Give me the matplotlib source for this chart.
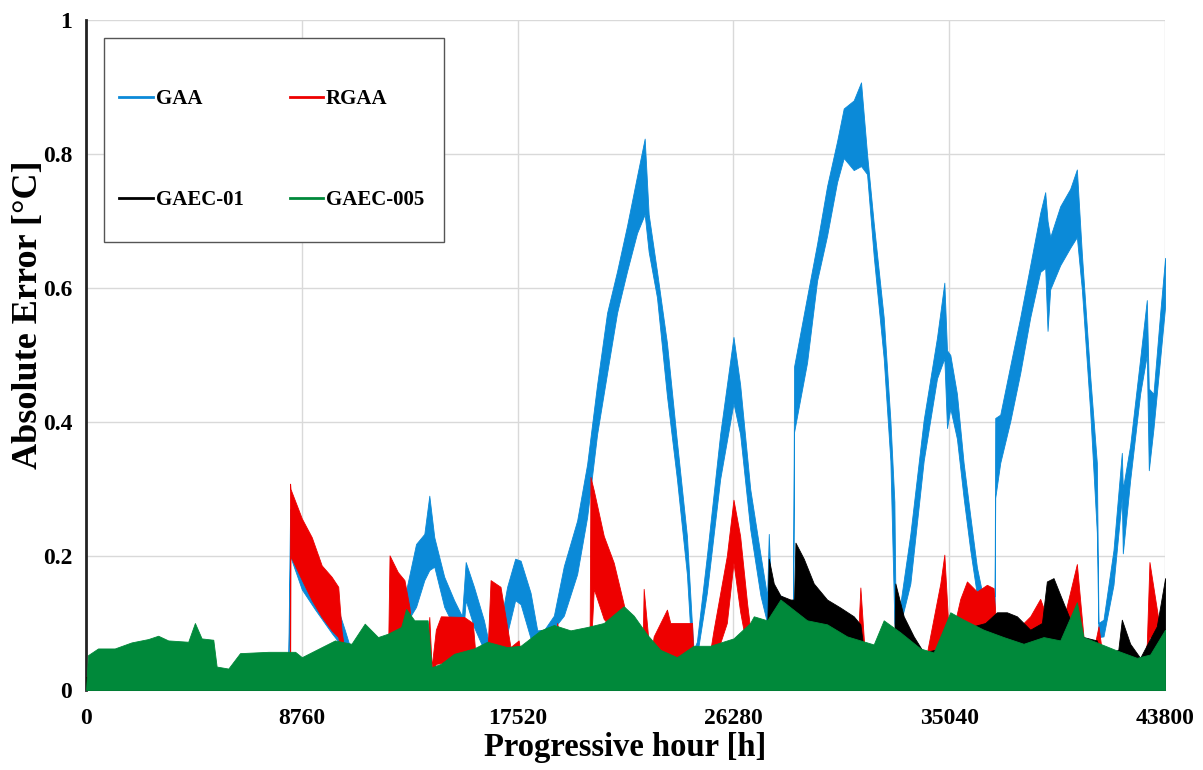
import numpy as np
import matplotlib
matplotlib.use("Agg")
from matplotlib import pyplot as plt
from matplotlib.lines import Line2D
from matplotlib.patches import Rectangle

# GAA (blue): hour, upper and lower envelope of the daily oscillation
gaa_h = [0, 8200, 8284, 8760, 9300, 9970, 10500, 11000, 12700, 13000, 13396, 13732,
         13934, 14136, 14539, 14940, 15209, 15260, 15411, 15746, 16150, 16350, 16824,
         17093, 17420, 17640, 18045, 18315, 18600, 18990, 19395, 19935, 20340, 20745,
         21150, 21555, 21960, 22365, 22676, 22838, 23175, 23580, 23985, 24390, 24592,
         24660, 24795, 25200, 25740, 26280, 26550, 26960, 27375, 27646, 27713, 27800,
         28650, 28700, 28740, 29268, 29674, 30079, 30485, 30755, 31160, 31458, 31702,
         31972, 32378, 32649, 32811, 32865, 33054, 33460, 34000, 34541, 34839, 34947,
         35082, 35350, 35621, 35891, 36162, 36364, 36702, 36880, 36905, 37108, 37514,
         37919, 38325, 38730, 38933, 39028, 39136, 39542, 39947, 40218, 40421, 40758,
         41029, 41096, 41299, 41705, 42043, 42083, 42381, 42786, 43057, 43138, 43327,
         43598, 43800]
gaa_hi = [0.02, 0.02, 0.27, 0.24, 0.20, 0.15, 0.09, 0.03, 0.04, 0.15, 0.218, 0.233,
          0.29, 0.228, 0.169, 0.134, 0.114, 0.11, 0.191, 0.154, 0.104, 0.07, 0.10,
          0.154, 0.196, 0.193, 0.145, 0.089, 0.09, 0.111, 0.185, 0.253, 0.337, 0.456,
          0.563, 0.625, 0.693, 0.767, 0.823, 0.71, 0.625, 0.518, 0.371, 0.23, 0.10,
          0.06, 0.072, 0.20, 0.382, 0.527, 0.456, 0.30, 0.202, 0.14, 0.233, 0.15,
          0.13, 0.13, 0.483, 0.587, 0.666, 0.752, 0.819, 0.868, 0.88, 0.907, 0.80,
          0.697, 0.556, 0.403, 0.281, 0.10, 0.129, 0.233, 0.403, 0.526, 0.608, 0.507,
          0.50, 0.442, 0.339, 0.26, 0.183, 0.147, 0.142, 0.14, 0.406, 0.411, 0.484,
          0.556, 0.634, 0.712, 0.743, 0.70, 0.676, 0.722, 0.748, 0.777, 0.651, 0.469,
          0.339, 0.10, 0.105, 0.209, 0.354, 0.30, 0.365, 0.494, 0.582, 0.45, 0.442,
          0.562, 0.645]
gaa_lo = [0.0, 0.0, 0.20, 0.15, 0.12, 0.085, 0.06, 0.02, 0.02, 0.10, 0.124, 0.164,
          0.179, 0.184, 0.124, 0.094, 0.07, 0.06, 0.134, 0.094, 0.06, 0.04, 0.06,
          0.084, 0.134, 0.128, 0.077, 0.06, 0.06, 0.092, 0.111, 0.173, 0.258, 0.382,
          0.473, 0.563, 0.625, 0.682, 0.71, 0.654, 0.586, 0.439, 0.315, 0.173, 0.049,
          0.044, 0.05, 0.145, 0.315, 0.428, 0.382, 0.24, 0.141, 0.10, 0.12, 0.10,
          0.09, 0.09, 0.385, 0.489, 0.611, 0.678, 0.758, 0.794, 0.776, 0.782, 0.77,
          0.648, 0.495, 0.342, 0.10, 0.086, 0.098, 0.159, 0.342, 0.465, 0.495, 0.391,
          0.42, 0.375, 0.287, 0.209, 0.142, 0.126, 0.12, 0.12, 0.287, 0.339, 0.401,
          0.473, 0.556, 0.624, 0.63, 0.536, 0.598, 0.634, 0.66, 0.676, 0.598, 0.416,
          0.235, 0.079, 0.08, 0.157, 0.287, 0.204, 0.313, 0.442, 0.50, 0.328, 0.39,
          0.494, 0.572]

# RGAA (red)
rgaa_h = [0, 8270, 8284, 8300, 8760, 9163, 9566, 9969, 10238, 10372, 10600, 12250,
          12320, 12656, 12925, 13126, 13300, 13850, 13934, 14027, 14200, 14403, 15346,
          15700, 15816, 16300, 16421, 16824, 17229, 17560, 17700, 19000, 19125, 19300,
          20440, 20475, 20610, 21015, 21420, 21825, 22100, 22600, 22635, 22905, 23040,
          23580, 23715, 24600, 24660, 25300, 25470, 26010, 26280, 26550, 26834, 27037,
          27300, 31300, 31431, 31600, 34000, 34135, 34676, 34839, 35015, 35200, 35486,
          35756, 36162, 36567, 36838, 36973, 37784, 38325, 38730, 39136, 39677, 40218,
          40488, 40894, 41096, 41300, 42950, 43057, 43165, 43530, 43800]
rgaa_hi = [0.02, 0.02, 0.308, 0.30, 0.256, 0.228, 0.186, 0.169, 0.154, 0.089, 0.03, 0.03,
           0.201, 0.176, 0.164, 0.124, 0.06, 0.07, 0.109, 0.034, 0.09, 0.11, 0.109,
           0.10, 0.049, 0.06, 0.164, 0.154, 0.064, 0.074, 0.04, 0.06, 0.10, 0.06,
           0.07, 0.318, 0.298, 0.23, 0.19, 0.128, 0.08, 0.08, 0.151, 0.044, 0.08,
           0.12, 0.10, 0.10, 0.04, 0.05, 0.089, 0.20, 0.284, 0.23, 0.129, 0.068,
           0.04, 0.05, 0.153, 0.06, 0.05, 0.056, 0.159, 0.202, 0.086, 0.09, 0.136,
           0.162, 0.147, 0.157, 0.152, 0.079, 0.09, 0.11, 0.136, 0.095, 0.105, 0.188,
           0.079, 0.059, 0.095, 0.04, 0.05, 0.069, 0.191, 0.105, 0.09]
rgaa_lo = [0.0, 0.0, 0.0, 0.20, 0.164, 0.134, 0.109, 0.089, 0.079, 0.05, 0.0, 0.0,
           0.05, 0.06, 0.07, 0.06, 0.03, 0.04, 0.06, 0.02, 0.039, 0.04, 0.045,
           0.05, 0.03, 0.03, 0.06, 0.06, 0.03, 0.03, 0.02, 0.03, 0.06, 0.03,
           0.03, 0.05, 0.151, 0.106, 0.089, 0.07, 0.05, 0.05, 0.05, 0.03, 0.044,
           0.049, 0.049, 0.049, 0.02, 0.02, 0.04, 0.10, 0.19, 0.117, 0.06, 0.04,
           0.02, 0.02, 0.05, 0.03, 0.03, 0.04, 0.06, 0.07, 0.05, 0.06, 0.09,
           0.09, 0.095, 0.09, 0.08, 0.05, 0.05, 0.07, 0.07, 0.06, 0.06, 0.09,
           0.05, 0.04, 0.04, 0.02, 0.03, 0.04, 0.08, 0.06, 0.05]

# GAEC-01 (black): upper envelope, filled down to zero
gaec01_h = [0, 27500, 27646, 27713, 27916, 28186, 28592, 28740, 28795, 29133, 29538,
            30079, 30620, 31160, 31431, 31566, 32800, 32851, 33189, 33595, 34000,
            34676, 35500, 36500, 36973, 37378, 37784, 38325, 38800, 39000, 39271,
            39542, 39947, 40488, 41029, 41231, 41900, 42043, 42381, 42786, 43462, 43800]
gaec01_hi = [0.02, 0.02, 0.09, 0.196, 0.159, 0.141, 0.135, 0.135, 0.22, 0.196, 0.159,
             0.135, 0.123, 0.11, 0.098, 0.06, 0.06, 0.159, 0.11, 0.08, 0.056,
             0.062, 0.09, 0.10, 0.116, 0.116, 0.11, 0.09, 0.10, 0.162, 0.167,
             0.142, 0.105, 0.079, 0.074, 0.05, 0.06, 0.105, 0.069, 0.048, 0.095, 0.167]

# GAEC-005 (green): upper envelope, filled down to zero
gaec005_h = [0, 81, 488, 1166, 1844, 2522, 2929, 3336, 4149, 4420, 4692, 5166, 5302,
             5777, 6251, 7404, 8488, 8760, 9297, 10104, 10775, 11313, 11850, 12253,
             12791, 12992, 13328, 13865, 14027, 14403, 14940, 15746, 16284, 17090,
             17640, 18450, 18990, 19665, 20340, 21015, 21825, 22230, 22770, 23310,
             23985, 24660, 25335, 26280, 26955, 27105, 27646, 28186, 29268, 30079,
             30890, 31431, 31972, 32378, 33054, 33865, 34406, 35082, 35621, 36432,
             37243, 38054, 38866, 39542, 40218, 40488, 41164, 41840, 42651, 43192, 43800]
gaec005_hi = [0.0, 0.052, 0.062, 0.062, 0.071, 0.076, 0.081, 0.074, 0.072, 0.10, 0.077,
              0.075, 0.035, 0.032, 0.055, 0.057, 0.057, 0.049, 0.059, 0.074, 0.069,
              0.099, 0.079, 0.084, 0.094, 0.121, 0.104, 0.104, 0.034, 0.039, 0.054,
              0.062, 0.072, 0.064, 0.066, 0.089, 0.097, 0.089, 0.094, 0.10, 0.125,
              0.111, 0.083, 0.06, 0.049, 0.066, 0.066, 0.077, 0.10, 0.11, 0.104,
              0.135, 0.104, 0.098, 0.08, 0.074, 0.068, 0.104, 0.086, 0.062, 0.056,
              0.116, 0.105, 0.09, 0.079, 0.069, 0.079, 0.074, 0.131, 0.079, 0.069,
              0.059, 0.048, 0.053, 0.09]

xticks = [0, 8760, 17520, 26280, 35040, 43800]
yticks = [0, 0.2, 0.4, 0.6, 0.8, 1.0]
ytick_labels = ["0", "0.2", "0.4", "0.6", "0.8", "1"]

c_gaa = "#0B8AD8"
c_rgaa = "#EE0000"
c_gaec01 = "#000000"
c_gaec005 = "#00893A"

plt.rcParams["font.family"] = ["Liberation Serif", "DejaVu Serif"]
plt.rcParams["font.weight"] = "bold"

fig = plt.figure(figsize=(12.03, 7.70), dpi=100)
ax = fig.add_axes([0.0715, 0.1039, 0.8970, 0.8701])

ax.fill_between(gaa_h, gaa_lo, gaa_hi, color=c_gaa, lw=0.6, zorder=2)
ax.fill_between(rgaa_h, rgaa_lo, rgaa_hi, color=c_rgaa, lw=0.6, zorder=3)
ax.fill_between(gaec01_h, 0, gaec01_hi, color=c_gaec01, lw=0.6, zorder=4)
ax.fill_between(gaec005_h, 0, gaec005_hi, color=c_gaec005, lw=0.6, zorder=5)

ax.set_xlim(0, 43800)
ax.set_ylim(0, 1)
ax.set_xticks(xticks)
ax.set_xticklabels([str(v) for v in xticks])
ax.set_yticks(yticks)
ax.set_yticklabels(ytick_labels)
ax.tick_params(length=0, labelsize=17, pad=10)
ax.tick_params(axis="x", pad=13)
for lab in ax.get_xticklabels() + ax.get_yticklabels():
    lab.set_fontweight("bold")

ax.grid(True, color="#d9d9d9", lw=1.0, zorder=0)
ax.set_axisbelow(True)
for s in ["top", "right"]:
    ax.spines[s].set_visible(False)
ax.spines["left"].set_linewidth(2.0)
ax.spines["left"].set_color("#222222")
ax.spines["bottom"].set_color("#d9d9d9")

ax.set_xlabel("Progressive hour [h]", fontsize=23.5, fontweight="bold", labelpad=2)
ax.set_ylabel("Absolute Error [°C]", fontsize=26, fontweight="bold")
ax.yaxis.set_label_coords(-0.038, 0.56)

# legend: frame drawn separately so the inner padding can match the reference
ax.add_patch(Rectangle((0.0167, 0.6687), 0.315, 0.3045, transform=ax.transAxes,
                       facecolor="white", edgecolor="#555555", lw=1.0, zorder=6))
handles = [Line2D([], [], color=c_gaa, lw=2),
           Line2D([], [], color=c_gaec01, lw=2),
           Line2D([], [], color=c_rgaa, lw=2),
           Line2D([], [], color=c_gaec005, lw=2)]
labels = ["GAA", "GAEC-01", "RGAA", "GAEC-005"]
leg = ax.legend(handles, labels, ncol=2, loc="upper left",
                bbox_to_anchor=(0.031, 0.897), prop={"size": 15, "weight": "bold"},
                handlelength=1.6, handletextpad=0.15, labelspacing=3.9,
                columnspacing=2.2, borderpad=0, borderaxespad=0, frameon=False)
leg.set_zorder(7)

fig.savefig("out.png", dpi=100)
